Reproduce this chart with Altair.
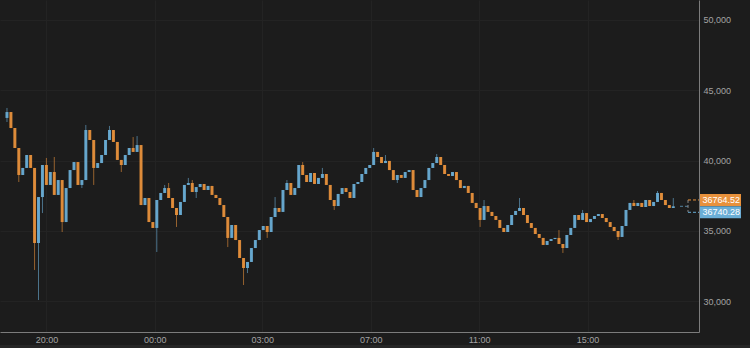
import altair as alt
import pandas as pd

# ---- data (prices) ----
first_open = 43030
closes = [
    43450, 42310, 40890, 38970, 39470, 40390, 39470, 34130, 37400, 39680,
    38260, 39180, 37550, 38610, 35620, 38040, 39320, 39890, 38260, 38610,
    42170, 41460, 39470, 39820, 40390, 41460, 42170, 41320, 40040, 39680,
    40390, 40890, 40610, 41100, 36830, 37330, 35620, 35200, 37190, 37690,
    38040, 37330, 36620, 36120, 37050, 38260, 38400, 37760, 38110, 38330,
    37900, 38190, 37550, 37330, 36830, 35980, 34490, 35410, 34340, 33060,
    32350, 32780, 33770, 34340, 35050, 35340, 34910, 35980, 36620, 36340,
    37900, 38400, 37550, 38040, 39680, 38970, 38470, 39110, 38330, 38760,
    39040, 38260, 37190, 36760, 37620, 38040, 37760, 37330, 38330, 38470,
    39040, 39470, 39680, 40610, 40250, 39820, 39970, 39320, 38610, 38970,
    38760, 39180, 39320, 37900, 37400, 38040, 38610, 39470, 39820, 40250,
    39680, 39040, 38900, 39180, 38610, 38040, 38190, 37690, 36980, 36620,
    35770, 36760, 36340, 36050, 35770, 35200, 34910, 35410, 36120, 36410,
    36620, 36120, 35550, 35200, 34770, 34490, 33990, 34270, 34410, 34490,
    34060, 33770, 34700, 35200, 36120, 35770, 36260, 35620, 35840, 36050,
    36190, 35910, 35620, 35270, 34980, 34560, 35340, 36480, 36980, 36760,
    36980, 36690, 37190, 36760, 37050, 37690, 37190, 36830, 36620, 36740.28,
]
high_idx = [0, 10, 12, 20, 26, 32, 33, 40, 41, 46, 47, 68, 71, 75, 80, 93, 96,
            109, 121, 130, 140, 146, 159, 165, 169]
high_val = [43740, 40180, 40250, 42530, 42460, 41670, 41740, 38260, 38400, 38760,
            38610, 37400, 38610, 39890, 39470, 40890, 40390, 40460, 37190, 37330,
            35050, 36480, 37190, 37830, 37330]
low_idx = [0, 3, 7, 8, 9, 14, 19, 22, 29, 38, 43, 48, 56, 60, 61, 66, 83, 99,
           120, 141, 155]
low_val = [42740, 38470, 32210, 30070, 36260, 34910, 38040, 38260, 39180, 33490,
           35270, 37330, 33840, 31140, 31990, 34490, 36480, 38400, 35270, 33420, 34340]

tick_pos = [10, 37.5, 64.75, 92.25, 119.75, 147.25]
tick_labels = ["20:00", "00:00", "03:00", "07:00", "11:00", "15:00"]
y_ticks = [30000, 35000, 40000, 45000, 50000]

last_prices = [36764.52, 36740.28]
last_texts = ["36764.52", "36740.28"]

ORANGE = "#e8913c"
BLUE = "#6aaed6"
BG = "#1c1c1c"
GRID = "#232323"
LABEL = "#a3a3a3"
DOMAIN = "#7c7c7c"

# ---- build table ----
opens = [first_open] + closes[:-1]
hmap = dict(zip(high_idx, high_val))
lmap = dict(zip(low_idx, low_val))
rows = []
for i, (o, c) in enumerate(zip(opens, closes)):
    hi = max(o, c, hmap.get(i, max(o, c)))
    lo = min(o, c, lmap.get(i, min(o, c)))
    rows.append({"i": i, "open": o, "close": c, "high": hi, "low": lo,
                 "dir": "up" if c >= o else "down"})
df = pd.DataFrame(rows)

xscale = alt.Scale(domain=[-0.5, 174.25], nice=False, zero=False)
yscale = alt.Scale(domain=[27795, 51423], nice=False, zero=False)
cscale = alt.Scale(domain=["up", "down"], range=[BLUE, ORANGE])

label_expr = ""
for p, t in zip(tick_pos, tick_labels):
    label_expr += f"datum.value == {p} ? '{t}' : "
label_expr += "''"

xaxis = alt.Axis(values=tick_pos, labelExpr=label_expr, grid=True, gridColor=GRID,
                 domainColor=DOMAIN, ticks=False, labelColor=LABEL,
                 labelFontSize=9, labelPadding=3, title=None, labelFont="Liberation Sans")
yaxis = alt.Axis(values=y_ticks, labelExpr="format(datum.value, ',')", orient="right",
                 grid=True, gridColor=GRID,
                 domainColor=DOMAIN, ticks=False, labelColor=LABEL,
                 labelFontSize=9, labelPadding=4, title=None, labelFont="Liberation Sans")

X = lambda f: alt.X(f, scale=xscale, axis=xaxis)
Y = lambda f: alt.Y(f, scale=yscale, axis=yaxis)

base = alt.Chart(df)

wicks = base.mark_rule(strokeWidth=1, opacity=0.6).encode(
    x=X("i:Q"), y=Y("low:Q"), y2="high:Q",
    color=alt.Color("dir:N", scale=cscale, legend=None),
)
bodies = base.mark_bar(size=3, opacity=0.92).encode(
    x=X("i:Q"), y=Y("open:Q"), y2="close:Q",
    color=alt.Color("dir:N", scale=cscale, legend=None),
)

# thin lighter strip along the very bottom of the canvas
strip = alt.Chart(pd.DataFrame({"k": [0]})).mark_rect(color="#262626").encode(
    x=alt.value(0), x2=alt.value(750), y=alt.value(345), y2=alt.value(348))

lab = pd.DataFrame({"price": last_prices, "txt": last_texts, "kind": ["down", "up"]})
labsrc = alt.Chart(lab)

boxes, texts, rules = [], [], []
for kind, off, col in [("down", -6, ORANGE), ("up", 6, BLUE)]:
    sub = labsrc.transform_filter(alt.datum.kind == kind)
    boxes.append(sub.mark_tick(orient="horizontal", thickness=12, size=41, yOffset=off,
                               color=col, opacity=1).encode(
        x=alt.value(720.5), y=Y("price:Q")))
    texts.append(sub.mark_text(align="left", baseline="middle", fontSize=9, color="white",
                               yOffset=off, font="Liberation Sans").encode(
        x=alt.value(702.5), y=Y("price:Q"), text="txt:N"))
    rules.append(sub.mark_rule(strokeDash=[3, 2], color=col, strokeWidth=1, yOffset=off).encode(
        x=alt.value(688), x2=alt.value(699), y=Y("price:Q")))

vrule = labsrc.transform_filter(alt.datum.kind == "down").mark_rule(
    strokeDash=[3, 2], color="#8a8a8a", strokeWidth=1, yOffset=-6, y2Offset=6).encode(
    x=alt.value(688), y=Y("price:Q"), y2=alt.Y2("price:Q"))
hrule = labsrc.transform_filter(alt.datum.kind == "up").mark_rule(
    strokeDash=[3, 2], color=BLUE, strokeWidth=1, opacity=0.7).encode(
    x=alt.value(680), x2=alt.value(688), y=Y("price:Q"))

chart = alt.layer(strip, wicks, bodies, hrule, vrule, *rules, *boxes, *texts).properties(
    width=699, height=332,
    autosize=alt.AutoSizeParams(type="none"),
    padding={"left": 0, "top": 0, "right": 51, "bottom": 16},
    background=BG,
).configure_view(strokeWidth=0)

chart.save("out.html", embed_options={"renderer": "svg", "actions": False})
